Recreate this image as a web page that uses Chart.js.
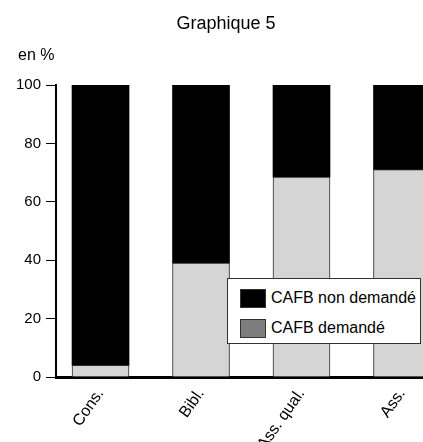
<!DOCTYPE html>
<html>
<head>
<meta charset="utf-8">
<script src="https://cdn.jsdelivr.net/npm/chart.js@4.4.1/dist/chart.umd.min.js"></script>
<style>
    html, body { margin: 0; padding: 0; background: #fff; overflow: hidden; }
    #wrap { position: relative; width: 423px; height: 442px; overflow: hidden; font-family: "Liberation Sans", Arial, sans-serif; }
    #chart { position: absolute; left: 0; top: 0; }
    .title { position: absolute; top: 13px; left: 116px; width: 220px; text-align: center; font-size: 18px; color: #000; }
    .unit { position: absolute; top: 46px; left: 18px; font-size: 16px; color: #000; }
    #legend { position: absolute; left: 227px; top: 278px; width: 194px; height: 66px; background: #fff;
              border: 1px solid #333; box-sizing: border-box; padding: 4px 0 0 12px; }
    .item { display: flex; align-items: center; height: 30px; font-size: 16px; color: #000; }
    .swatch { width: 26px; height: 19px; margin-right: 5px; box-sizing: border-box; border: 1px solid #333; }
</style>
</head>
<body>
<div id="wrap">
    <canvas id="chart" width="423" height="480"></canvas>
    <div class="title">Graphique 5</div>
    <div class="unit">en %</div>
    <div id="legend"></div>
</div>
<script>
// Categories (the last one is cut by the picture edge)
const categories = ['Cons.', 'Bibl.', 'Ass. qual.', 'Ass.'];

// Share in % per category
const demande    = [4, 39, 68.5, 71];
const nonDemande = [96, 61, 31.5, 29];

const seriesNames = ['CAFB non demandé', 'CAFB demandé'];
const yTicks = [0, 20, 40, 60, 80, 100];

const grayFill = '#d5d5d5';
const legendSwatches = ['#000000', '#7d7d7d'];

const toPoints = arr => arr.map((v, i) => ({ x: i, y: v }));

const ctx = document.getElementById('chart').getContext('2d');

new Chart(ctx, {
    type: 'bar',
    data: {
        datasets: [
            {
                label: seriesNames[1],
                data: toPoints(demande),
                backgroundColor: grayFill,
                borderColor: '#2a2a2a',
                borderWidth: { left: 1, right: 1, top: 1, bottom: 0 },
                borderSkipped: false,
                barThickness: 57
            },
            {
                label: seriesNames[0],
                data: toPoints(nonDemande),
                backgroundColor: '#000000',
                borderWidth: 0,
                barThickness: 57
            }
        ]
    },
    options: {
        responsive: false,
        animation: false,
        layout: { padding: { top: 85, right: 0, left: 0, bottom: 0 } },
        plugins: {
            legend: { display: false },
            tooltip: { enabled: false }
        },
        scales: {
            x: {
                type: 'linear',
                stacked: true,
                offset: false,
                min: -0.443,
                max: 3.209,
                afterBuildTicks: scale => {
                    scale.ticks = categories.map((c, i) => ({ value: i }));
                },
                afterFit: scale => { scale.height = 103; },
                grid: { display: false, offset: false },
                border: { display: true, color: '#000', width: 3 },
                ticks: {
                    autoSkip: false,
                    minRotation: 55,
                    maxRotation: 55,
                    padding: 0,
                    color: '#000',
                    font: { family: '"Liberation Sans", Arial, sans-serif', size: 16 },
                    callback: v => categories[v] !== undefined ? categories[v] : ''
                }
            },
            y: {
                stacked: true,
                min: 0,
                max: 100,
                afterBuildTicks: scale => {
                    scale.ticks = yTicks.map(v => ({ value: v }));
                },
                afterFit: scale => { scale.width = 56; },
                grid: {
                    drawOnChartArea: false,
                    drawTicks: true,
                    tickLength: 10,
                    color: '#000',
                    lineWidth: 1
                },
                border: { display: true, color: '#000', width: 2 },
                ticks: {
                    padding: 5,
                    color: '#000',
                    font: { family: '"Liberation Sans", Arial, sans-serif', size: 15 }
                }
            }
        }
    }
});

// Legend box drawn in HTML, from the series names
const legend = document.getElementById('legend');
seriesNames.forEach((name, i) => {
    const item = document.createElement('div');
    item.className = 'item';
    item.innerHTML = '<span class="swatch" style="background:' + legendSwatches[i] + '"></span>' + name;
    legend.appendChild(item);
});
</script>
</body>
</html>
